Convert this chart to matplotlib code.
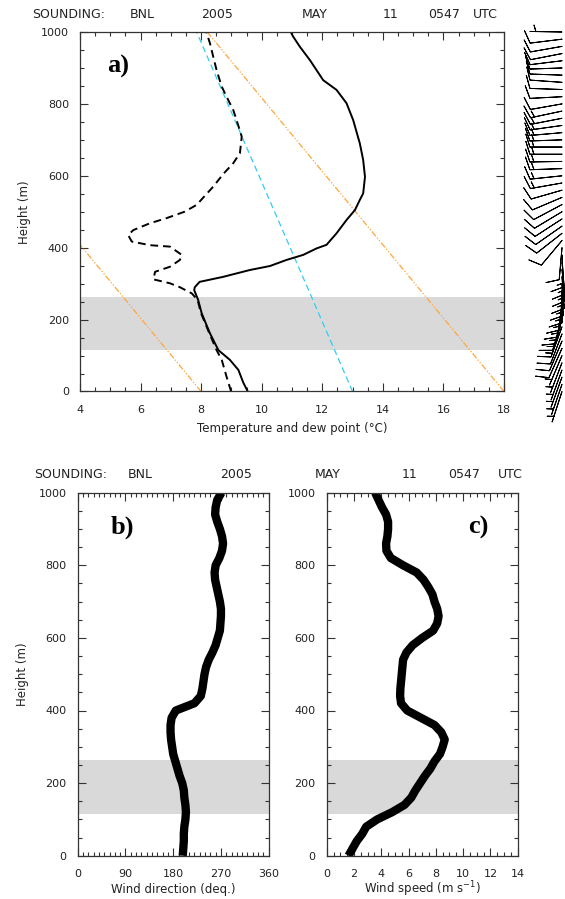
import matplotlib
matplotlib.use('Agg')
import matplotlib.pyplot as plt
import numpy as np
from matplotlib.ticker import MultipleLocator

# ---------------- data ----------------
temp_h = [0, 25, 60, 88, 115, 162, 217, 255, 282, 290, 305, 319, 338, 349, 366, 380, 398, 408,
          440, 477, 505, 533, 551, 597, 644, 690, 755, 802, 839, 866, 922, 959, 987, 1000]
temp_c = [9.54, 9.39, 9.23, 8.95, 8.57, 8.29, 8.02, 7.90, 7.77, 7.79, 7.95, 8.73, 9.61, 10.27,
          10.82, 11.37, 11.81, 12.14, 12.47, 12.80, 13.08, 13.24, 13.35, 13.41, 13.35, 13.24,
          13.02, 12.80, 12.47, 12.03, 11.59, 11.26, 11.04, 10.96]

dew_h = [0, 41, 88, 115, 162, 217, 255, 273, 290, 301, 312, 333, 347, 366, 380, 403, 407, 417,
         435, 449, 468, 482, 500, 519, 570, 605, 635, 663, 709, 755, 783, 820, 848, 894, 931,
         969, 1000]
dew_c = [8.99, 8.84, 8.68, 8.51, 8.27, 8.00, 7.88, 7.69, 7.30, 6.97, 6.42, 6.48, 6.97, 7.30,
         7.36, 6.97, 6.31, 5.71, 5.59, 5.76, 6.31, 6.85, 7.45, 7.85, 8.40, 8.73, 9.06, 9.28,
         9.34, 9.17, 9.06, 8.84, 8.68, 8.51, 8.40, 8.29, 8.17]

moist_h = [0, 1000]
moist_t = [13.0, 7.85]
dry_h = [0, 1000]
dry1_t = [8.0, -1.8]
dry2_t = [18.0, 8.2]

wind_h = list(range(0, 1001, 20))
wind_dir = [198, 199, 200, 200, 201, 203, 204, 203, 201, 200, 197, 192, 188, 184, 180, 178,
            176, 175, 175, 177, 185, 220, 232, 235, 237, 239, 242, 247, 254, 260, 264, 268,
            269, 270, 270, 268, 265, 262, 259, 258, 260, 267, 272, 274, 272, 268, 263, 259,
            260, 263, 271]
wind_spd = [1.6, 1.9, 2.2, 2.6, 2.9, 3.7, 4.8, 5.7, 6.2, 6.5, 6.85, 7.2, 7.6, 7.9, 8.3, 8.5,
            8.65, 8.4, 7.9, 6.9, 5.9, 5.45, 5.38, 5.4, 5.45, 5.5, 5.55, 5.6, 5.85, 6.3, 7.0,
            7.8, 8.1, 8.2, 8.1, 7.9, 7.75, 7.45, 7.1, 6.6, 5.6, 4.7, 4.38, 4.35, 4.45, 4.5,
            4.5, 4.35, 4.05, 3.8, 3.55]

band = (116, 264)

# ---------------- figure ----------------
W, H = 565, 899
fig = plt.figure(figsize=(W / 100, H / 100), dpi=100)
plt.rcParams['font.family'] = ['DejaVu Sans']

def ax_px(l, r, t, b):
    return fig.add_axes([l / W, (H - b) / H, (r - l) / W, (b - t) / H])

TXT = '#222222'

def style(ax):
    for s in ax.spines.values():
        s.set_color('#333333')
        s.set_linewidth(0.9)
    ax.tick_params(which='both', direction='in', top=True, right=True,
                   colors='#333333', labelcolor=TXT, labelsize=8, width=0.8)
    ax.tick_params(which='major', length=5.5)
    ax.tick_params(which='minor', length=2.8)
    ax.tick_params(axis='x', pad=9.5)
    ax.tick_params(axis='y', pad=8)

# panel a
axa = ax_px(80, 504, 32, 391.5)
axa.axhspan(band[0], band[1], color='#d9d9d9', lw=0, zorder=0)
axa.plot(dry1_t, dry_h, color='#ffa53a', lw=0.9, dashes=(5, 1.5, 1, 1.5, 1, 1.5))
axa.plot(dry2_t, dry_h, color='#ffa53a', lw=0.9, dashes=(5, 1.5, 1, 1.5, 1, 1.5))
axa.plot(moist_t, moist_h, color='#33ccee', lw=0.9, dashes=(5, 3))
axa.plot(dew_c, dew_h, color='black', lw=1.4, dashes=(4, 2.5))
axa.plot(temp_c, temp_h, color='black', lw=1.4)
axa.set_xlim(4, 18)
axa.set_ylim(0, 1000)
axa.set_xticks(range(4, 19, 2))
axa.set_yticks(range(0, 1001, 200))
axa.xaxis.set_minor_locator(MultipleLocator(0.5))
axa.yaxis.set_minor_locator(MultipleLocator(50))
style(axa)
axa.set_xlabel('Temperature and dew point (\u00b0C)', fontsize=8.5, color=TXT, labelpad=5)
axa.set_ylabel('Height (m)', fontsize=8.5, color=TXT, labelpad=7)
axa.text(0.063, 0.905, 'a)', transform=axa.transAxes, fontsize=19, fontweight='bold',
         family='Liberation Serif', ha='left', va='center')

# barbs beside panel a
axw = ax_px(480, 640, 32, 391.5)
axw.set_xlim(480, 640)
axw.set_ylim(0, 1000)
axw.axis('off')
d = np.deg2rad(np.array(wind_dir))
s = np.array(wind_spd)
u = -s * np.sin(d)
v = -s * np.cos(d)
axw.barbs(np.full(len(wind_h), 562.0), wind_h, u, v, length=6.8, linewidth=0.7,
          barb_increments=dict(half=2.5, full=5, flag=25), color='black', clip_on=False)

# panel b
axb = ax_px(77.7, 268.7, 492.7, 855.7)
axb.axhspan(band[0], band[1], color='#d9d9d9', lw=0, zorder=0)
axb.plot(wind_dir, wind_h, color='black', lw=6, solid_capstyle='butt')
axb.set_xlim(0, 360)
axb.set_ylim(0, 1000)
axb.set_xticks(range(0, 361, 90))
axb.set_yticks(range(0, 1001, 200))
axb.xaxis.set_minor_locator(MultipleLocator(10))
axb.yaxis.set_minor_locator(MultipleLocator(50))
style(axb)
axb.set_xlabel('Wind direction (deq.)', fontsize=8.5, color=TXT, labelpad=3)
axb.set_ylabel('Height (m)', fontsize=8.5, color=TXT, labelpad=7)
axb.text(0.17, 0.905, 'b)', transform=axb.transAxes, fontsize=19, fontweight='bold',
         family='Liberation Serif', ha='left', va='center')

# panel c
axc = ax_px(326.7, 517.7, 492.7, 855.7)
axc.axhspan(band[0], band[1], color='#d9d9d9', lw=0, zorder=0)
axc.plot(wind_spd, wind_h, color='black', lw=6, solid_capstyle='butt')
axc.set_xlim(0, 14)
axc.set_ylim(0, 1000)
axc.set_xticks(range(0, 15, 2))
axc.set_yticks(range(0, 1001, 200))
axc.xaxis.set_minor_locator(MultipleLocator(0.5))
axc.yaxis.set_minor_locator(MultipleLocator(50))
style(axc)
axc.set_xlabel('Wind speed (m s$^{-1}$)', fontsize=8.5, color=TXT, labelpad=0.5)
axc.text(0.74, 0.905, 'c)', transform=axc.transAxes, fontsize=19, fontweight='bold',
         family='Liberation Serif', ha='left', va='center')

# header texts
def ftxt(x, y, t):
    fig.text(x / W, 1 - y / H, t, fontsize=9, color=TXT, ha='left', va='center')

for x, t in [(32, 'SOUNDING:'), (130, 'BNL'), (201, '2005'), (302, 'MAY'),
             (383, '11'), (428, '0547'), (473, 'UTC')]:
    ftxt(x, 14, t)
for x, t in [(34, 'SOUNDING:'), (128, 'BNL'), (220, '2005'), (315, 'MAY'),
             (402, '11'), (448, '0547'), (498, 'UTC')]:
    ftxt(x, 475, t)

fig.savefig('out.png', dpi=100)
